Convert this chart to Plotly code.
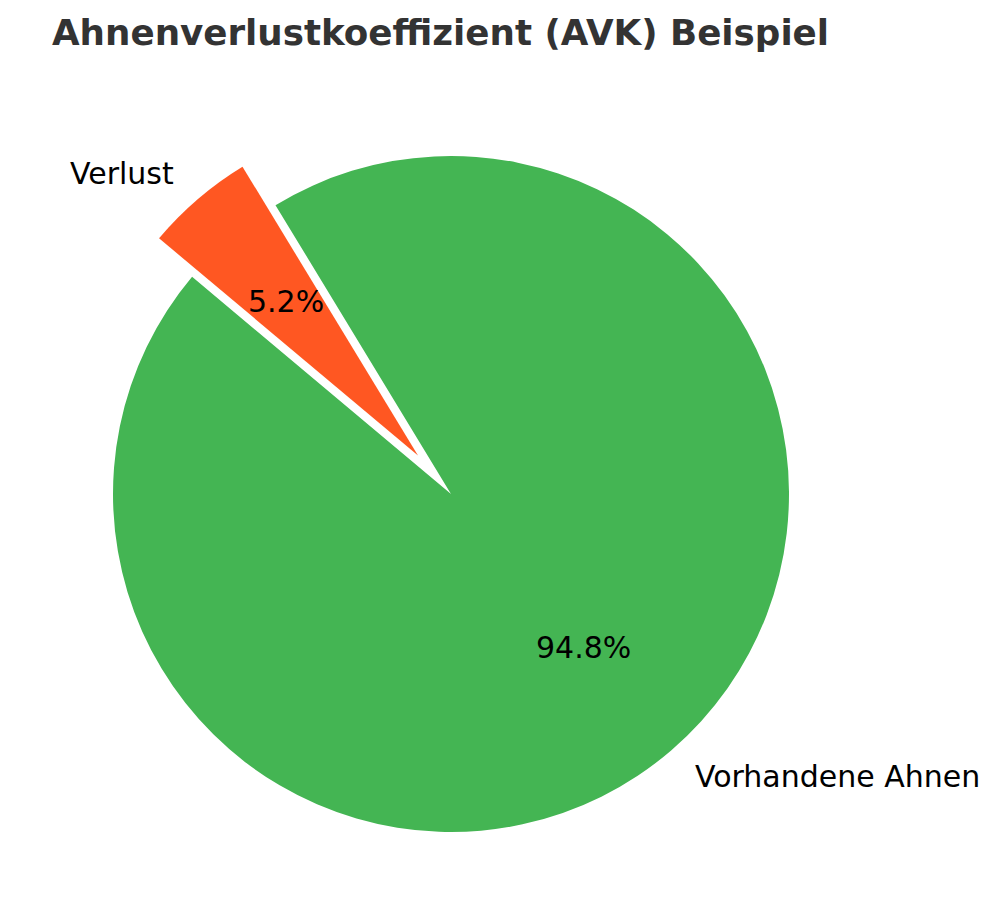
import math
import plotly.graph_objects as go

# Daten
labels = ["Vorhandene Ahnen", "Verlust"]
values = [94.8, 5.2]
colors = ["#44b553", "#ff5722"]
explode = [0.0, 0.15]

title = "Ahnenverlustkoeffizient (AVK) Beispiel"

# Seite hat 8px Rand im Browser -> Figur etwas kleiner, Koordinaten verschoben
OFF = 8
W, H = 1000 - OFF, 922 - OFF
cx, cy, r = 451 - OFF, 494 - OFF, 338   # Mittelpunkt / Radius in Pixeln
start = 140                               # Startwinkel (mathematisch, Grad)
pull_max = max(explode)
half = r * (1 + pull_max)
total = sum(values)

# plotly: bei counterclockwise endet das erste Stück bei "rotation"
rotation = 90 - start - values[0] / total * 360

fig = go.Figure(go.Pie(
    labels=labels,
    values=values,
    marker=dict(colors=colors, line=dict(width=0)),
    pull=explode,
    sort=False,
    direction="counterclockwise",
    rotation=rotation,
    textinfo="none",
    hoverinfo="label+percent",
    showlegend=False,
    domain=dict(x=[(cx - half) / W, (cx + half) / W],
                y=[1 - (cy + half) / H, 1 - (cy - half) / H]),
))

# Beschriftungen wie bei matplotlib: Label bei 1.1 r, Prozent bei 0.6 r
theta = start
annotations = []
for lab, val, ex in zip(labels, values, explode):
    span = val / total * 360
    mid = math.radians(theta + span / 2)
    theta += span
    ox = cx + ex * r * math.cos(mid)
    oy = cy - ex * r * math.sin(mid)
    lx = ox + 1.1 * r * math.cos(mid)
    ly = oy - 1.1 * r * math.sin(mid)
    px = ox + 0.6 * r * math.cos(mid)
    py = oy - 0.6 * r * math.sin(mid)
    annotations.append(dict(
        x=lx / W, y=1 - ly / H, xref="paper", yref="paper", text=lab,
        showarrow=False, xanchor="left" if math.cos(mid) > 0 else "right",
        yanchor="middle", font=dict(size=30, color="black", family="DejaVu Sans")))
    annotations.append(dict(
        x=px / W, y=1 - py / H, xref="paper", yref="paper",
        text=f"{val / total * 100:.1f}%", showarrow=False,
        xanchor="center", yanchor="middle",
        font=dict(size=30, color="black", family="DejaVu Sans")))

fig.update_layout(
    width=W, height=H,
    margin=dict(l=0, r=0, t=0, b=0),
    paper_bgcolor="white",
    plot_bgcolor="white",
    title=dict(text=f"<b>{title}</b>", x=(52 - OFF) / W, xanchor="left",
               y=1 - (33 - OFF) / H, yanchor="middle",
               font=dict(size=35.7, color="#333333", family="DejaVu Sans")),
    annotations=annotations,
)

fig.write_html("out.html")
